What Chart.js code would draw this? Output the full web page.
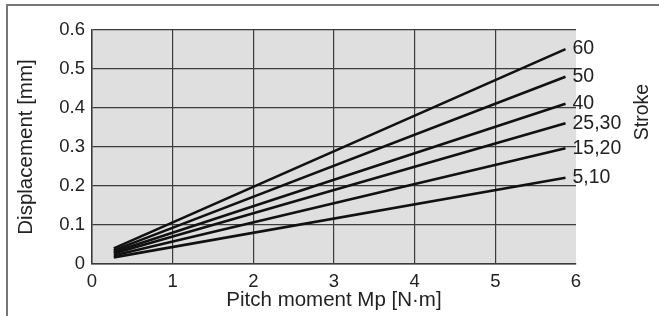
<!DOCTYPE html>
<html>
<head>
<meta charset="utf-8">
<script src="https://cdn.jsdelivr.net/npm/chart.js@4/dist/chart.umd.min.js"></script>
<style>
  html, body { margin: 0; padding: 0; background: #fff; }
  #wrap { position: relative; width: 659px; height: 316px; }
  #frame { position: absolute; left: 6px; top: 4px; right: 0; bottom: 0;
           border-top: 2px solid #777; border-left: 2px solid #777; pointer-events: none; }
  canvas { position: absolute; left: 0; top: 0; }
</style>
</head>
<body>
<div id="wrap">
  <canvas id="c" width="659" height="316"></canvas>
  <div id="frame"></div>
</div>
<script>
// Pitch moment (N·m) at start and end of each curve
const moments = [0.27, 5.87];
// Stroke labels
const strokes = ['60', '50', '40', '25,30', '15,20', '5,10'];
// Displacement (mm) values per stroke
const disp60   = [0.040, 0.551];
const disp50   = [0.035, 0.480];
const disp40   = [0.031, 0.411];
const disp2530 = [0.027, 0.361];
const disp1520 = [0.022, 0.297];
const disp510  = [0.017, 0.221];
const seriesValues = [disp60, disp50, disp40, disp2530, disp1520, disp510];
// Tick labels
const xTickLabels = ['0', '1', '2', '3', '4', '5', '6'];
const yTickLabels = ['0', '0.1', '0.2', '0.3', '0.4', '0.5', '0.6'];

const FONT = "'Liberation Sans', Arial, sans-serif";
const TEXT = '#222';

const datasets = seriesValues.map((vals, i) => ({
  label: strokes[i],
  data: vals.map((v, j) => ({ x: moments[j], y: v })),
  borderColor: '#111',
  borderWidth: 2.6,
  pointRadius: 0,
  fill: false,
  tension: 0
}));

const bgPlugin = {
  id: 'plotBg',
  beforeDraw(chart) {
    const { ctx, chartArea: a } = chart;
    ctx.save();
    ctx.fillStyle = '#dfdfe0';
    ctx.fillRect(a.left, a.top, a.right - a.left, a.bottom - a.top);
    ctx.restore();
  }
};

const labelPlugin = {
  id: 'endLabels',
  afterDatasetsDraw(chart) {
    const { ctx, chartArea: a } = chart;
    ctx.save();
    ctx.font = "19.5px " + FONT;
    ctx.fillStyle = TEXT;
    ctx.textAlign = 'left';
    ctx.textBaseline = 'middle';
    chart.data.datasets.forEach((ds, i) => {
      const meta = chart.getDatasetMeta(i);
      const last = meta.data[meta.data.length - 1];
      ctx.fillText(ds.label, last.x + 7, last.y);
    });
    ctx.translate(a.right + 67, (a.top + a.bottom) / 2 - 35);
    ctx.rotate(-Math.PI / 2);
    ctx.textAlign = 'center';
    ctx.fillText('Stroke', 0, 0);
    ctx.restore();
  }
};

new Chart(document.getElementById('c'), {
  type: 'line',
  data: { datasets },
  plugins: [bgPlugin, labelPlugin],
  options: {
    responsive: false,
    animation: false,
    events: [],
    layout: { padding: { left: 0, top: 30, right: 83, bottom: 0 } },
    plugins: { legend: { display: false }, tooltip: { enabled: false } },
    scales: {
      x: {
        type: 'linear',
        min: 0, max: 6,
        afterFit(s) { s.height = 52; },
        ticks: {
          stepSize: 1,
          padding: 7,
          color: TEXT,
          font: { family: FONT, size: 18.5 },
          callback: (v, i) => xTickLabels[i]
        },
        grid: {
          drawTicks: false,
          color: (c) => (c.tick && c.tick.value === 6) ? 'rgba(0,0,0,0)' : '#3c3c3c',
          lineWidth: 1.2
        },
        border: { display: true, color: '#3c3c3c', width: 1.5 },
        title: {
          display: true,
          text: 'Pitch moment Mp [N·m]',
          color: TEXT,
          font: { family: FONT, size: 20.5 },
          padding: { top: 0, bottom: 3 }
        }
      },
      y: {
        type: 'linear',
        min: 0, max: 0.6,
        afterFit(s) { s.width = 92; },
        ticks: {
          stepSize: 0.1,
          padding: 7,
          color: TEXT,
          font: { family: FONT, size: 18.5 },
          callback: (v, i) => yTickLabels[i]
        },
        grid: { drawTicks: false, color: '#3c3c3c', lineWidth: 1.2 },
        border: { display: true, color: '#3c3c3c', width: 1.5 },
        title: {
          display: true,
          text: 'Displacement [mm]',
          color: TEXT,
          font: { family: FONT, size: 20.5 },
          padding: { top: 14, bottom: 0 }
        }
      }
    }
  }
});
</script>
</body>
</html>
